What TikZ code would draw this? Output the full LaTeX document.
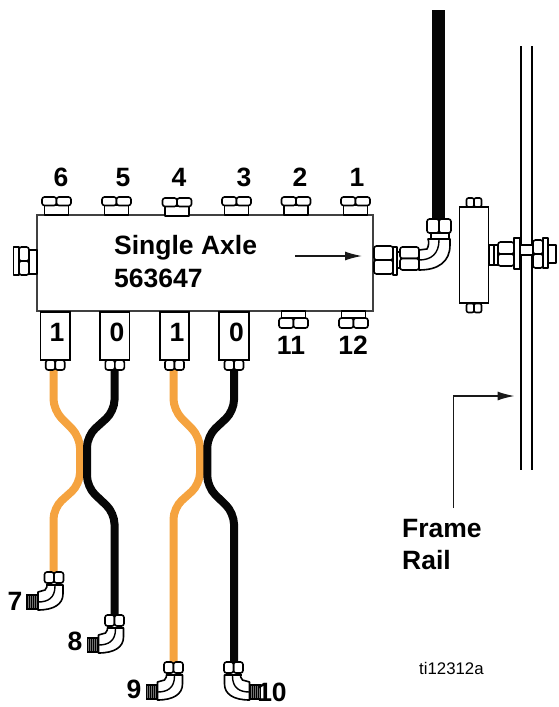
\documentclass[tikz,border=0pt]{standalone}
\usepackage{fontspec}
\setmainfont{Liberation Sans}
\usetikzlibrary{arrows.meta}
\definecolor{hoseorange}{HTML}{F5A33F}
\definecolor{hoseblack}{HTML}{060606}
\tikzset{
  x=1pt,y=-1pt,
  part/.style={draw=black,line width=1.6pt,fill=white,line join=round},
  lobe/.style={draw=black,line width=1.6pt,fill=white,rounded corners=2.5pt},
  lbl/.style={font=\fontsize{26.5}{26.5}\selectfont\bfseries,inner sep=0pt,text=black},
  num/.style={lbl,anchor=base},
  hose/.style={line width=8pt,rounded corners=11pt},
  orangehose/.style={hose,draw=hoseorange},
  blackhose/.style={hose,draw=hoseblack},
  leader/.style={draw=black!90,line width=1.4pt,-{Latex[length=17pt,width=9pt]}},
  railline/.style={draw=black,line width=2.1pt},
  portup/.pic={
    \draw[part] (-12,0) rectangle (12,-10);
    \draw[lobe] (-14.5,-9.5) rectangle (0,-18);
    \draw[lobe] (0,-9.5) rectangle (14.5,-18);
  },
  portdown/.pic={
    \draw[part] (-12,0) rectangle (12,7);
    \draw[lobe] (-14.5,7) rectangle (0,17);
    \draw[lobe] (0,7) rectangle (14.5,17);
  },
  tail/.pic={
    \draw[lobe] (-9.5,0) rectangle (0,10);
    \draw[lobe] (0,0) rectangle (9.5,10);
  },
  smallnut/.pic={
    \draw[lobe,rounded corners=2pt] (-7.5,-4.5) rectangle (0,4.5);
    \draw[lobe,rounded corners=2pt] (0,-4.5) rectangle (7.5,4.5);
  },
  elbow/.pic={
    % origin: top centre of the nut
    \fill[black!55] (-27,23) rectangle (-16,37);
    \foreach \t in {-25,-23,-21,-19,-17}{\draw[black,line width=.8pt] (\t,23) -- (\t,37);}
    \draw[line width=1.2pt] (-27,23) rectangle (-16,37);
    \draw[part] (-16,20) -- (-9,18) .. controls (-7,16) and (-7,14) .. (-7,13)
      -- (9,13) -- (9,22) .. controls (9,32) and (0,38) .. (-16,38) -- cycle;
    \draw[line width=1.4pt] (-16,30) .. controls (-6,30) and (1,26) .. (1,14);
    \draw[lobe] (-9.5,0) rectangle (0,11);
    \draw[lobe] (0,0) rectangle (9.5,11);
    \draw[line width=1.4pt] (-8,13) -- (9,13);
  }
}
\begin{document}
\begin{tikzpicture}[x=1pt,y=-1pt]
\useasboundingbox (0,0) rectangle (559,707);

% hoses
\coordinate (o1a) at (53.5,368); \coordinate (o1b) at (53.5,573);
\coordinate (k1a) at (114.5,368); \coordinate (k1b) at (114.5,616);
\coordinate (o2a) at (173.5,368); \coordinate (o2b) at (173.5,663);
\coordinate (k2a) at (234,368); \coordinate (k2b) at (234,663);
\draw[orangehose] (o1a) -- (53.5,410) -- (80,437) -- (80,484) -- (53.5,508) -- (o1b);
\draw[blackhose] (k1a) -- (114.5,411) -- (87,436) -- (87,487) -- (114.5,513) -- (k1b);
\draw[orangehose] (o2a) -- (173.5,410) -- (200,437) -- (200,484) -- (173.5,508) -- (o2b);
\draw[blackhose] (k2a) -- (234,411) -- (207.3,436) -- (207.3,487) -- (234,513) -- (k2b);
\fill[hoseblack] (432,10) rectangle (445,220);

% manifold
\node[draw=black!75,line width=1.4pt,fill=white,minimum width=336pt,minimum height=96pt,inner sep=0pt] (manifold) at (205,263) {};

% ports on top
\pic at (56.5,215) {portup};
\pic at (116.5,215) {portup};
\pic at (177,216) {portup};
\pic at (236.5,215) {portup};
\pic at (296,215) {portup};
\pic at (355.5,215) {portup};
% ports below
\pic at (293.5,311) {portdown};
\pic at (353.5,311) {portdown};

% left port
\draw[part] (29,250) rectangle (37,274);
\draw[lobe] (19,247) rectangle (29,261);
\draw[lobe] (19,261) rectangle (29,275);
\draw[part] (13.5,247) rectangle (19,275);

% boxes under the manifold
\foreach \n/\cx in {a/55.2,b/114.8,c/174.5,d/234}{
  \pic at (\cx,360) {tail};
  \node[draw=black,line width=1.6pt,fill=white,minimum width=29.5pt,minimum height=48pt,inner sep=0pt] (box\n) at (\cx,336) {};
}
\node[num] (d1) at (57,341) {1};
\node[num] (d2) at (117,341) {0};
\node[num] (d3) at (177,341) {1};
\node[num] (d4) at (236.5,341) {0};

% right fitting
\draw[part] (419,250) -- (427,249) .. controls (429,246) and (429,241) .. (428,239) -- (450,239) -- (450,245)
  .. controls (450,262) and (438,270) .. (419,270) -- cycle;
\draw[line width=1.4pt] (419,260) .. controls (431,260) and (439,254) .. (439,240);
\draw[lobe] (374,246) rectangle (393,260);
\draw[lobe] (374,260) rectangle (393,274);
\draw[part] (393,247) rectangle (397,275);
\draw[part] (397,252) rectangle (401,268);
\draw[lobe] (400,247) rectangle (419,258.5);
\draw[lobe] (400,258.5) rectangle (419,270);
\draw[lobe] (427,219) rectangle (439,233);
\draw[lobe] (439,219) rectangle (451,233);
\draw[part] (431,233) rectangle (449,239);

% rails
\coordinate (r1a) at (521,46); \coordinate (r1b) at (521,470);
\coordinate (r2a) at (532,46); \coordinate (r2b) at (532,470);
\draw[railline] (r1a) -- (r1b);
\draw[railline] (r2a) -- (r2b);

% block and bolt
\node[draw=black,line width=1.6pt,fill=white,minimum width=29pt,minimum height=96pt,inner sep=0pt] (block) at (474,255) {};
\pic at (474,202.5) {smallnut};
\pic at (474,308) {smallnut};
\draw[part] (489,245) rectangle (498,265);
\draw[part] (494,245) -- (494,265);
\draw[lobe] (498,242) rectangle (514,254);
\draw[lobe] (498,254) rectangle (514,266);
\draw[part] (514,238) rectangle (520,269);
\draw[part] (520,245) rectangle (533,255);
\draw[lobe] (533,240) rectangle (543,254);
\draw[lobe] (533,254) rectangle (543,268);
\draw[part] (543,238) rectangle (548,268);
\draw[part] (548,245) rectangle (556,263);

% elbows
\pic at (54,572) {elbow};
\pic at (114.5,615) {elbow};
\pic at (173.5,662) {elbow};
\pic[xscale=-1] at (233.5,662) {elbow};

% main text
\node[lbl,anchor=base west] (title1) at (114,254) {Single Axle};
\node[lbl,anchor=base west] (title2) at (114,287) {563647};
\coordinate (fa) at (295,256); \coordinate (fb) at (362,256);
\draw[leader] (fa) -- (fb);

% numbers
\node[num] (n6) at (61,186) {6};
\node[num] (n5) at (123,186) {5};
\node[num] (n4) at (179,186) {4};
\node[num] (n3) at (244,186) {3};
\node[num] (n2) at (300,186) {2};
\node[num] (n1) at (357,186) {1};
\node[num] (n11) at (291,354) {11};
\node[num] (n12) at (353,354) {12};
\node[num] (n7) at (15,610) {7};
\node[num] (n8) at (75,650) {8};
\node[num] (n9) at (134,698) {9};
\node[num] (n10) at (272,701.5) {10};

% frame rail
\coordinate (ra) at (453.5,508); \coordinate (rc) at (453.5,396); \coordinate (rb) at (514.5,396);
\draw[leader] (ra) -- (rc) -- (rb);
\node[lbl,anchor=base west] (frame) at (402,537) {Frame};
\node[lbl,anchor=base west] (rail) at (402,569) {Rail};
\node[font=\fontsize{16.8}{17}\selectfont,anchor=base west,inner sep=0pt] (code) at (419,674) {ti12312a};
\end{tikzpicture}
\end{document}
